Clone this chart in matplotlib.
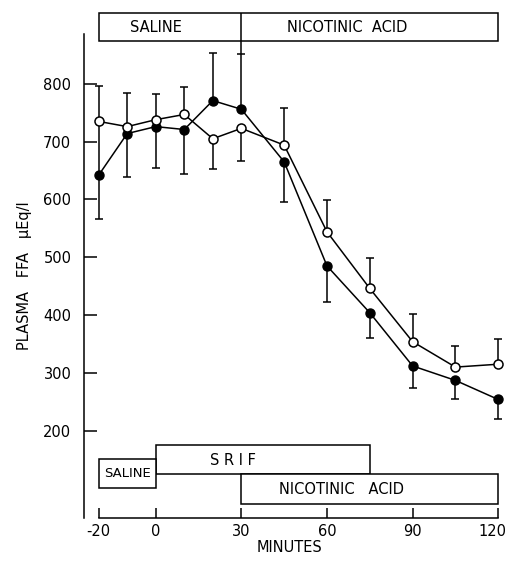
import matplotlib
matplotlib.use('Agg')
from matplotlib import pyplot as plt
from matplotlib.patches import Rectangle
from matplotlib.transforms import ScaledTranslation

plt.rcParams['font.family'] = ['DejaVu Sans']
plt.rcParams['axes.unicode_minus'] = False

# minutes of sampling
minutes = [-20, -10, 0, 10, 20, 30, 45, 60, 75, 90, 105, 120]

# open circles: saline -> nicotinic acid
ffa_open = [735, 726, 738, 747, 705, 723, 694, 544, 446, 354, 310, 315]
open_err_lo = [0, 0, 0, 0, 52, 56, 0, 0, 0, 0, 0, 0]
open_err_hi = [62, 59, 45, 47, 0, 0, 65, 55, 53, 47, 37, 43]

# filled circles: SRIF + nicotinic acid
ffa_filled = [642, 714, 726, 721, 771, 756, 665, 485, 404, 312, 287, 254]
filled_err_lo = [75, 76, 72, 77, 0, 0, 70, 62, 43, 38, 33, 33]
filled_err_hi = [93, 0, 0, 0, 82, 95, 0, 0, 0, 0, 0, 0]

xticks = [-20, 0, 30, 60, 90, 120]
xticklabels = ['-20', '0', '30', '60', '90', '120']
yticks = [200, 300, 400, 500, 600, 700, 800]

fig = plt.figure(figsize=(5.08, 5.64), dpi=100)
ax = fig.add_axes([0.165, 0.0816, 0.827, 0.903])
ax.set_xlim(-25.2, 122)
ax.set_ylim(49, 930)

lw = 1.1
ax.errorbar(minutes, ffa_filled, yerr=[filled_err_lo, filled_err_hi], color='black',
            lw=lw, elinewidth=lw, capsize=3, capthick=lw, marker='o', ms=6.5,
            mfc='black', mec='black', zorder=2)
ax.errorbar(minutes, ffa_open, yerr=[open_err_lo, open_err_hi], color='black',
            lw=lw, elinewidth=lw, capsize=3, capthick=lw, marker='o', ms=6.5,
            mfc='white', mec='black', mew=1.1, zorder=3)

# treatment box on top
ax.add_patch(Rectangle((-20, 874), 140, 49, fill=False, lw=lw, clip_on=False))
ax.vlines(30, 851, 923, color='black', lw=lw, clip_on=False)
ax.text(0, 898, 'SALINE', ha='center', va='center', fontsize=10.5)
ax.text(67, 898, 'NICOTINIC  ACID', ha='center', va='center', fontsize=10.5)

# treatment boxes at the bottom
ax.add_patch(Rectangle((0, 125), 75, 50, fill=False, lw=lw))
ax.add_patch(Rectangle((30, 74), 90, 51, fill=True, fc='white', ec='black', lw=lw))
ax.add_patch(Rectangle((-20, 101), 20, 50, fill=True, fc='white', ec='black', lw=lw))
ax.text(27, 149, 'S R I F', ha='center', va='center', fontsize=10.5)
ax.text(-10, 126, 'SALINE', ha='center', va='center', fontsize=9.5)
ax.text(65, 98, 'NICOTINIC   ACID', ha='center', va='center', fontsize=10.5)

for s in ['top', 'right']:
    ax.spines[s].set_visible(False)
ax.spines['left'].set_bounds(49, 887)
ax.spines['bottom'].set_bounds(-20, 120)
ax.spines['left'].set_linewidth(lw)
ax.spines['bottom'].set_linewidth(lw)

ax.set_xticks(xticks)
ax.set_xticklabels(xticklabels)
ax.set_yticks(yticks)
ax.tick_params(axis='y', direction='in', length=9, width=lw, pad=9, labelsize=10.5)
ax.tick_params(axis='x', direction='in', length=7, width=lw, pad=4, labelsize=10.5)

# keep the last tick label inside the picture
last = ax.get_xticklabels()[-1]
last.set_transform(last.get_transform() + ScaledTranslation(-0.06, 0, fig.dpi_scale_trans))

fig.text(290 / 508, 1 - 547 / 564, 'MINUTES', ha='center', va='center', fontsize=10.5)
fig.text(25 / 508, 1 - 276 / 564, 'PLASMA   FFA   μEq/l', ha='center', va='center',
         rotation=90, fontsize=10.5)

fig.savefig('out.png', dpi=100)
